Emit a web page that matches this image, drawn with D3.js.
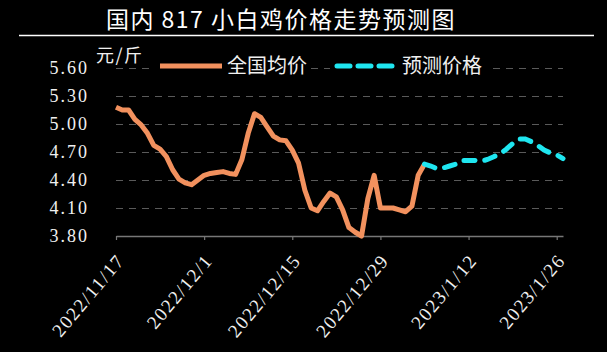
<!DOCTYPE html>
<html>
<head>
<meta charset="utf-8">
<script src="https://cdn.jsdelivr.net/npm/d3@7"></script>
<style>
  body { margin: 0; background: #000; }
  #graph-container { width: 607px; height: 352px; }
  .grid line { stroke: #5a5a5a; stroke-width: 1.2; stroke-dasharray: 7,6; }
  .grid .domain { display: none; }
</style>
</head>
<body>
<div id="graph-container"></div>
<script>
const titleText = '国内 817 小白鸡价格走势预测图';
const unitLabel = '元/斤';
const seriesNames = ['全国均价', '预测价格'];

// day offsets from 2022/11/17
const xTickDays = [0, 14, 28, 42, 56, 70];
const xTickLabels = ['2022/11/17', '2022/12/1', '2022/12/15', '2022/12/29', '2023/1/12', '2023/1/26'];
const yTicks = [3.8, 4.1, 4.4, 4.7, 5.0, 5.3, 5.6];

const actualPrice = [
  5.18, 5.15, 5.15, 5.05, 4.99, 4.90, 4.77, 4.73, 4.65, 4.51,
  4.41, 4.37, 4.35, 4.40, 4.45, 4.47, 4.48, 4.49, 4.47, 4.46,
  4.62, 4.90, 5.11, 5.07, 4.97, 4.87, 4.83, 4.82, 4.72, 4.58,
  4.29, 4.10, 4.07, 4.17, 4.26, 4.22, 4.08, 3.89, 3.84, 3.80,
  4.20, 4.45, 4.10, 4.10, 4.10, 4.08, 4.06, 4.12, 4.45, 4.57
];
const forecastStart = 49;
const forecastPrice = [
  4.57, 4.55, 4.52, 4.53, 4.55, 4.57, 4.61, 4.61, 4.61, 4.60,
  4.62, 4.65, 4.68, 4.73, 4.79, 4.84, 4.84, 4.81, 4.77, 4.72,
  4.69, 4.67, 4.63
];

const orange = '#f2915e';
const cyan = '#1fe6f0';

function drawGraph() {
  const width = 607;
  const height = 352;
  const plot = {left: 116, right: 563, top: 68, bottom: 236};

  const svg = d3.select('#graph-container')
    .append('svg')
    .attr('width', width)
    .attr('height', height)
    .style('background', '#000');

  // Title
  svg.append('text')
    .attr('x', 281)
    .attr('y', 28)
    .attr('text-anchor', 'middle')
    .attr('fill', '#fff')
    .style('font-family', '"Noto Sans CJK SC", sans-serif')
    .style('font-size', '23px')
    .style('letter-spacing', '1.5px')
    .text(titleText);

  svg.append('line')
    .attr('x1', 19).attr('x2', 594)
    .attr('y1', 35.5).attr('y2', 35.5)
    .attr('stroke', '#fff')
    .attr('stroke-width', 1.5);

  const xScale = d3.scaleLinear()
    .domain([0, 71])
    .range([plot.left, plot.right]);

  const yScale = d3.scaleLinear()
    .domain([3.8, 5.6])
    .range([plot.bottom, plot.top]);

  // Y grid + labels
  const yAxis = d3.axisLeft(yScale)
    .tickValues(yTicks)
    .tickSizeInner(-(plot.right - plot.left))
    .tickSizeOuter(0)
    .tickPadding(27)
    .tickFormat(d3.format('.2f'));

  const yG = svg.append('g')
    .attr('class', 'grid')
    .attr('transform', `translate(${plot.left},0)`)
    .call(yAxis);
  yG.selectAll('text')
    .attr('fill', '#f0f0f0')
    .style('font-family', '"Liberation Serif", serif')
    .style('font-size', '18px')
    .style('letter-spacing', '2px');
  yG.selectAll('.tick')
    .filter((d) => d === 3.8)
    .select('line')
    .remove();

  // X axis
  const xAxis = d3.axisBottom(xScale)
    .tickValues(xTickDays)
    .tickSizeInner(4)
    .tickSizeOuter(0)
    .tickFormat((d, i) => xTickLabels[i]);

  const xG = svg.append('g')
    .attr('transform', `translate(0,${plot.bottom})`)
    .call(xAxis);
  xG.select('.domain')
    .attr('stroke', '#777')
    .attr('stroke-width', 1.5);
  xG.selectAll('.tick line')
    .attr('stroke', '#777')
    .attr('stroke-width', 1.2);
  xG.selectAll('.tick text')
    .attr('fill', '#f0f0f0')
    .attr('text-anchor', 'end')
    .attr('dy', null)
    .attr('y', 0)
    .attr('transform', 'translate(9,25) rotate(-50)')
    .style('font-family', '"Liberation Serif", serif')
    .style('font-size', '19px')
    .style('letter-spacing', '1.5px');

  // Unit label
  svg.append('text')
    .attr('x', 96)
    .attr('y', 62)
    .attr('fill', '#f0f0f0')
    .style('font-family', '"Noto Sans CJK SC", sans-serif')
    .style('font-size', '18px')
    .style('letter-spacing', '1.5px')
    .text(unitLabel);

  // Lines
  const line = d3.line()
    .x((d) => xScale(d.x))
    .y((d) => yScale(d.y));

  const actualPts = actualPrice.map((v, i) => ({x: i, y: v}));
  const forecastPts = forecastPrice.map((v, i) => ({x: forecastStart + i, y: v}));

  svg.append('path')
    .attr('d', line(actualPts))
    .attr('fill', 'none')
    .attr('stroke', orange)
    .attr('stroke-width', 5)
    .attr('stroke-linejoin', 'round');

  svg.append('path')
    .attr('d', line(forecastPts))
    .attr('fill', 'none')
    .attr('stroke', cyan)
    .attr('stroke-width', 5)
    .attr('stroke-linecap', 'round')
    .attr('stroke-dasharray', '11,10');

  // Legend
  const legend = svg.append('g');
  legend.append('rect')
    .attr('x', 155).attr('y', 54).attr('width', 153).attr('height', 24)
    .attr('fill', '#000');
  legend.append('rect')
    .attr('x', 330).attr('y', 54).attr('width', 158).attr('height', 24)
    .attr('fill', '#000');
  legend.append('line')
    .attr('x1', 160).attr('x2', 222)
    .attr('y1', 66).attr('y2', 66)
    .attr('stroke', orange)
    .attr('stroke-width', 5);
  legend.append('line')
    .attr('x1', 337).attr('x2', 392)
    .attr('y1', 66).attr('y2', 66)
    .attr('stroke', cyan)
    .attr('stroke-width', 5)
    .attr('stroke-linecap', 'round')
    .attr('stroke-dasharray', '13,8');
  legend.selectAll('text.leg')
    .data(seriesNames)
    .enter()
    .append('text')
    .attr('class', 'leg')
    .attr('x', (d, i) => (i === 0 ? 227 : 402))
    .attr('y', 73)
    .attr('fill', '#f0f0f0')
    .style('font-family', '"Noto Sans CJK SC", sans-serif')
    .style('font-size', '20px')
    .text((d) => d);
}

drawGraph();
</script>
</body>
</html>
